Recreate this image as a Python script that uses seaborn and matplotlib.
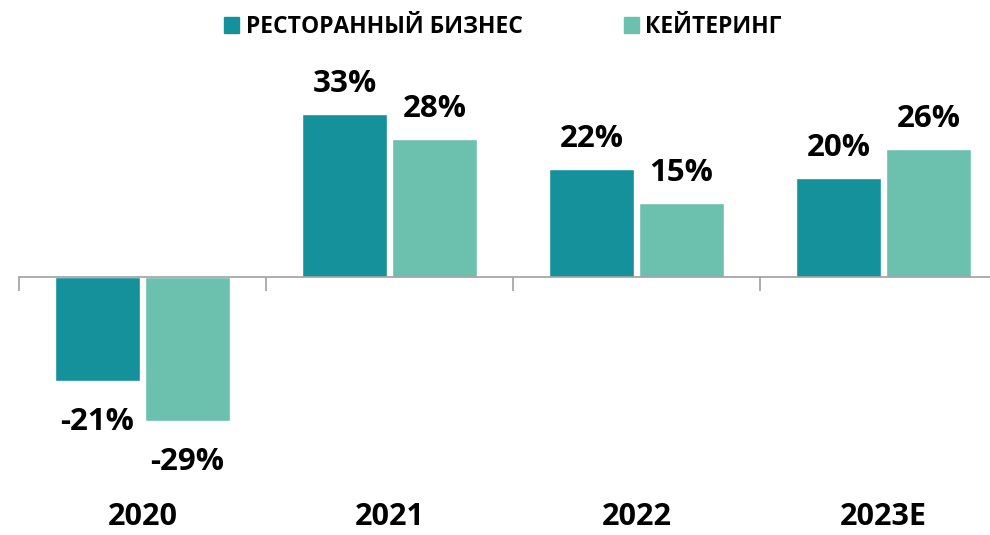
import numpy as np
import pandas as pd
import seaborn as sns
import matplotlib.pyplot as plt

sns.set_style("white")
plt.rcParams['font.family'] = ['Open Sans', 'DejaVu Sans']
plt.rcParams['text.color'] = 'black'

years = ['2020', '2021', '2022', '2023E']
series_names = ['РЕСТОРАННЫЙ БИЗНЕС', 'КЕЙТЕРИНГ']
restaurant = [-21, 33, 22, 20]
catering = [-29, 28, 15, 26]
colors = ['#15919b', '#6bc0ae']

df = pd.DataFrame({
    'Year': years * 2,
    'Series': [series_names[0]] * 4 + [series_names[1]] * 4,
    'Value': restaurant + catering,
})

fig = plt.figure(figsize=(9.9, 5.35), dpi=100)
# axes placed so the category boundaries land where they are in the reference
ax = fig.add_axes([19 / 990, 1 - 480 / 535, 988 / 990, 440 / 535])
sns.barplot(data=df, x='Year', y='Value', hue='Series', palette=colors,
            width=0.73, gap=0.05, ax=ax, legend=False, saturation=1)

ax.set_xlim(-0.5, 3.5)
ax.set_ylim(-41, 48)
for s in ['top', 'right', 'left']:
    ax.spines[s].set_visible(False)
ax.spines['bottom'].set_position(('data', 0))
ax.spines['bottom'].set_color('#a0a0a0')
ax.spines['bottom'].set_linewidth(1.2)
ax.set_yticks([])
ax.set_xticks(np.arange(-0.5, 4, 1))
ax.set_xticklabels([])
ax.tick_params(axis='x', direction='out', length=10, width=1.2, color='#a0a0a0', bottom=True)
ax.set_xlabel('')
ax.set_ylabel('')
ax.grid(False)

# value labels: baseline offset in pixels -> points
for p in ax.patches:
    h = p.get_height()
    if np.isnan(h):
        continue
    xc = p.get_x() + p.get_width() / 2
    off = 22 if h >= 0 else -49
    ax.annotate(f'{h:.0f}%', (xc, h), xytext=(0, off * 0.72), textcoords='offset points',
                ha='center', va='baseline', fontsize=22.5, fontweight='bold', color='black')

for i, y in enumerate(years):
    fig.text((19 + 247 * i + 123.5) / 990, 1 - 525 / 535, y, ha='center', va='baseline',
             fontsize=22, fontweight='bold', color='black')

handles = [plt.Rectangle((0, 0), 1, 1, color=c) for c in colors]
fig.legend(handles, series_names, loc='center', bbox_to_anchor=(503 / 990, 1 - 27 / 535), ncol=2,
           frameon=False, prop={'weight': 'bold', 'size': 16.5}, handlelength=0.65, handleheight=0.7,
           handletextpad=0.3, columnspacing=4.4, labelcolor='black')

fig.savefig('out.png', dpi=100)
